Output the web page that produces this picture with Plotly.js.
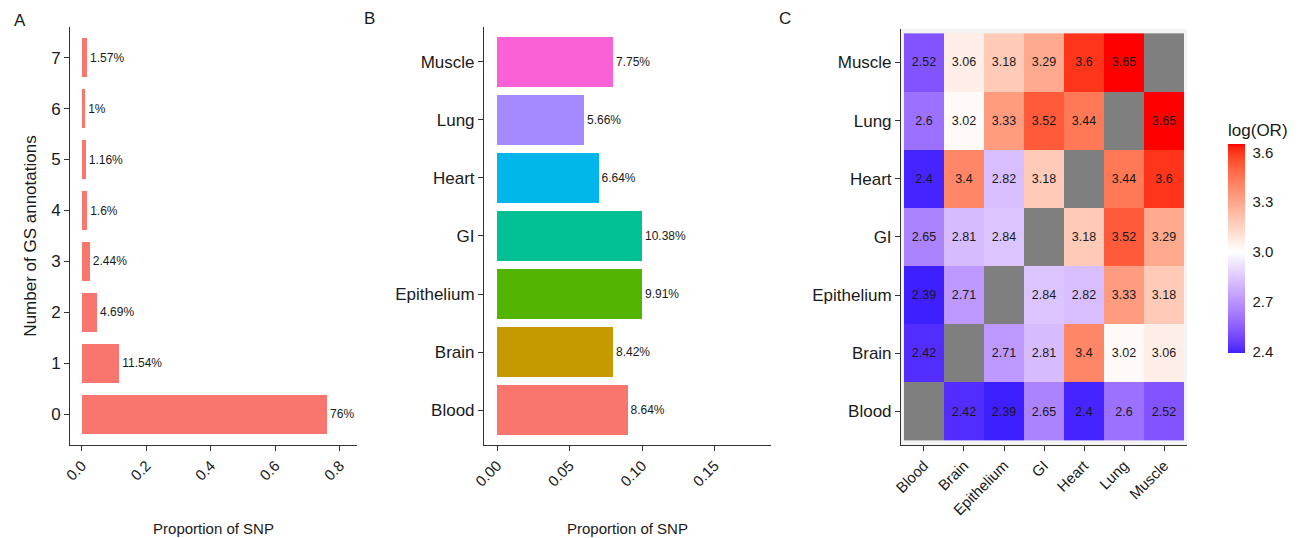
<!DOCTYPE html>
<html>
<head>
<meta charset="utf-8">
<script src="https://cdn.plot.ly/plotly-3.0.1.min.js"></script>
<style>html,body{margin:0;padding:0;background:#fff;}#chart{width:1302px;height:538px;}</style>
</head>
<body>
<div id="chart"></div>
<script>
// ---------- DATA ----------
// Panel A
var gsCounts = [0, 1, 2, 3, 4, 5, 6, 7];
var gsProportion = [0.76, 0.1154, 0.0469, 0.0244, 0.016, 0.0116, 0.01, 0.0157];
var gsLabels = ["76%", "11.54%", "4.69%", "2.44%", "1.6%", "1.16%", "1%", "1.57%"];

// Panel B
var tissues = ["Blood", "Brain", "Epithelium", "GI", "Heart", "Lung", "Muscle"];
var tissueProportion = [0.09, 0.08, 0.10, 0.10, 0.07, 0.06, 0.08];
var tissueLabels = ["8.64%", "8.42%", "9.91%", "10.38%", "6.64%", "5.66%", "7.75%"];
var tissueColors = ["#F8766D", "#C49A00", "#53B400", "#00C094", "#00B6EB", "#A58AFF", "#FB61D7"];

// Panel C (rows = y tissue, bottom Blood -> top Muscle; cols = x tissue)
var rowBlood      = [null, 2.42, 2.39, 2.65, 2.4, 2.6, 2.52];
var rowBrain      = [2.42, null, 2.71, 2.81, 3.4, 3.02, 3.06];
var rowEpithelium = [2.39, 2.71, null, 2.84, 2.82, 3.33, 3.18];
var rowGI         = [2.65, 2.81, 2.84, null, 3.18, 3.52, 3.29];
var rowHeart      = [2.4, 3.4, 2.82, 3.18, null, 3.44, 3.6];
var rowLung       = [2.6, 3.02, 3.33, 3.52, 3.44, null, 3.65];
var rowMuscle     = [2.52, 3.06, 3.18, 3.29, 3.6, 3.65, null];
var colorbarTicks = [2.4, 2.7, 3.0, 3.3, 3.6];
var colorbarTickText = ["2.4", "2.7", "3.0", "3.3", "3.6"];

// ---------- HELPERS ----------
var FONT = "Liberation Sans, Arial, Helvetica, sans-serif";
var TXT = "#1a1a1a";
var AX = "#333333";

function lab2rgb(L, a, b) {
  var fy = (L + 16) / 116, fx = fy + a / 500, fz = fy - b / 200;
  function finv(t) { return t > 6 / 29 ? t * t * t : 3 * (6 / 29) * (6 / 29) * (t - 4 / 29); }
  var X = 0.95047 * finv(fx), Y = finv(fy), Z = 1.08883 * finv(fz);
  var r = 3.2406 * X - 1.5372 * Y - 0.4986 * Z;
  var g = -0.9689 * X + 1.8758 * Y + 0.0415 * Z;
  var bb = 0.0557 * X - 0.2040 * Y + 1.0570 * Z;
  function gam(c) { c = c <= 0.0031308 ? 12.92 * c : 1.055 * Math.pow(c, 1 / 2.4) - 0.055; return Math.round(Math.max(0, Math.min(1, c)) * 255); }
  return "rgb(" + gam(r) + "," + gam(g) + "," + gam(bb) + ")";
}
var LAB_BLUE = [32.30, 79.19, -107.86], LAB_WHITE = [100, 0, 0], LAB_RED = [53.24, 80.09, 67.20];
function mix(p, q, t) { return [p[0] + (q[0] - p[0]) * t, p[1] + (q[1] - p[1]) * t, p[2] + (q[2] - p[2]) * t]; }

var zmat = [rowBlood, rowBrain, rowEpithelium, rowGI, rowHeart, rowLung, rowMuscle];
var allVals = [].concat.apply([], zmat).filter(function (v) { return v !== null; });
var zmin = Math.min.apply(null, allVals), zmax = Math.max.apply(null, allVals);
var mid = 3.0;
var spread = Math.max(Math.abs(zmin - mid), Math.abs(zmax - mid));
var cscale = [];
var N = 60;
for (var i = 0; i <= N; i++) {
  var v = zmin + (zmax - zmin) * i / N;
  var f = 0.5 + (v - mid) / (2 * spread);
  var lab = f < 0.5 ? mix(LAB_BLUE, LAB_WHITE, f / 0.5) : mix(LAB_WHITE, LAB_RED, (f - 0.5) / 0.5);
  cscale.push([i / N, lab2rgb(lab[0], lab[1], lab[2])]);
}
var naMat = zmat.map(function (r) { return r.map(function (v) { return v === null ? 1 : null; }); });
var textMat = zmat.map(function (r) { return r.map(function (v) { return v === null ? "" : String(v); }); });

// ---------- TRACES ----------
var traceA = {
  type: "bar", orientation: "h", x: gsProportion, y: gsCounts,
  xaxis: "x", yaxis: "y", width: 0.75,
  marker: { color: "#F8766D", line: { width: 0 } },
  text: gsLabels, textposition: "outside", cliponaxis: false, constraintext: "none",
  textfont: { family: FONT, size: 12, color: TXT }, hoverinfo: "x+y", showlegend: false
};
var traceB = {
  type: "bar", orientation: "h", x: tissueProportion, y: tissues,
  xaxis: "x2", yaxis: "y2", width: 0.85,
  marker: { color: tissueColors, line: { width: 0 } },
  text: tissueLabels, textposition: "outside", cliponaxis: false, constraintext: "none",
  textfont: { family: FONT, size: 12, color: TXT }, hoverinfo: "x+y", showlegend: false
};
var traceNA = {
  type: "heatmap", x: tissues, y: tissues, z: naMat, xaxis: "x3", yaxis: "y3",
  colorscale: [[0, "#7F7F7F"], [1, "#7F7F7F"]], showscale: false, hoverinfo: "skip", zmin: 0, zmax: 1
};
var traceC = {
  type: "heatmap", x: tissues, y: tissues, z: zmat, xaxis: "x3", yaxis: "y3",
  zmin: zmin, zmax: zmax, colorscale: cscale,
  text: textMat, texttemplate: "%{text}", textfont: { family: FONT, size: 12.5, color: TXT },
  colorbar: {
    title: { text: "log(OR)", side: "top", font: { family: FONT, size: 17, color: TXT } },
    x: 0.9432, xanchor: "left", y: 1 - 353 / 538, yanchor: "bottom",
    len: 233, lenmode: "pixels", thickness: 17, thicknessmode: "pixels",
    xpad: 0, ypad: 0, outlinewidth: 0,
    tickvals: colorbarTicks, ticktext: colorbarTickText,
    ticks: "outside", ticklen: 5, tickcolor: "rgba(255,255,255,0)", tickwidth: 1,
    tickfont: { family: FONT, size: 15, color: TXT }
  }
};

// ---------- LAYOUT ----------
function xax(domain, range, tickvals, ticktext) {
  return {
    domain: domain, range: range, tickvals: tickvals, ticktext: ticktext,
    showline: true, linecolor: AX, linewidth: 1, ticks: "outside", ticklen: 5, tickcolor: AX,
    showgrid: false, zeroline: false, tickangle: -45,
    tickfont: { family: FONT, size: 15, color: TXT }, fixedrange: true
  };
}
function yax(domain, range) {
  return {
    domain: domain, range: range,
    showline: true, linecolor: AX, linewidth: 1, ticks: "outside", ticklen: 5, tickcolor: AX,
    showgrid: false, zeroline: false,
    tickfont: { family: FONT, size: 17, color: TXT }, fixedrange: true
  };
}
var yDom = [0.1729, 0.9498];
var xTitleFont = { family: FONT, size: 15, color: TXT };
var layout = {
  width: 1302, height: 538, margin: { l: 0, r: 0, t: 0, b: 0 },
  paper_bgcolor: "#ffffff", plot_bgcolor: "#ffffff",
  showlegend: false, bargap: 0,
  xaxis: Object.assign(xax([0.0538, 0.2742], [-0.037, 0.853], [0, 0.2, 0.4, 0.6, 0.8], ["0.0", "0.2", "0.4", "0.6", "0.8"]),
    { anchor: "y", title: { text: "Proportion of SNP", font: xTitleFont, standoff: 40 } }),
  yaxis: Object.assign(yax(yDom, [-0.6, 7.6]),
    { anchor: "x", tickvals: gsCounts, title: { text: "Number of GS annotations", font: { family: FONT, size: 17, color: TXT }, standoff: 10 } }),
  xaxis2: Object.assign(xax([0.3717, 0.5922], [-0.009, 0.189], [0, 0.05, 0.10, 0.15], ["0.00", "0.05", "0.10", "0.15"]),
    { anchor: "y2", title: { text: "Proportion of SNP", font: xTitleFont, standoff: 34 } }),
  yaxis2: Object.assign(yax(yDom, [-0.6, 6.6]),
    { anchor: "x2", type: "category", categoryorder: "array", categoryarray: tissues }),
  xaxis3: Object.assign(xax([0.6920, 0.9117], [-0.575, 6.575]),
    { anchor: "y3", type: "category", categoryorder: "array", categoryarray: tissues }),
  yaxis3: Object.assign(yax([0.1729, 0.9461], [-0.575, 6.575]),
    { anchor: "x3", type: "category", categoryorder: "array", categoryarray: tissues }),
  shapes: [
    { type: "rect", xref: "x3 domain", yref: "y3 domain", x0: 0, x1: 1, y0: 0, y1: 1,
      fillcolor: "#F3F3F3", line: { width: 0 }, layer: "below" }
  ],
  annotations: [
    { text: "A", x: 12, y: 20 },
    { text: "B", x: 362, y: 19 },
    { text: "C", x: 777, y: 19 }
  ].map(function (a) {
    return { text: a.text, x: a.x / 1302, y: 1 - a.y / 538, xref: "paper", yref: "paper", xanchor: "left", yanchor: "middle",
      showarrow: false, font: { family: FONT, size: 17, color: TXT } };
  })
};

Plotly.newPlot("chart", [traceA, traceB, traceNA, traceC], layout, { displayModeBar: false, staticPlot: true });
</script>
</body>
</html>
